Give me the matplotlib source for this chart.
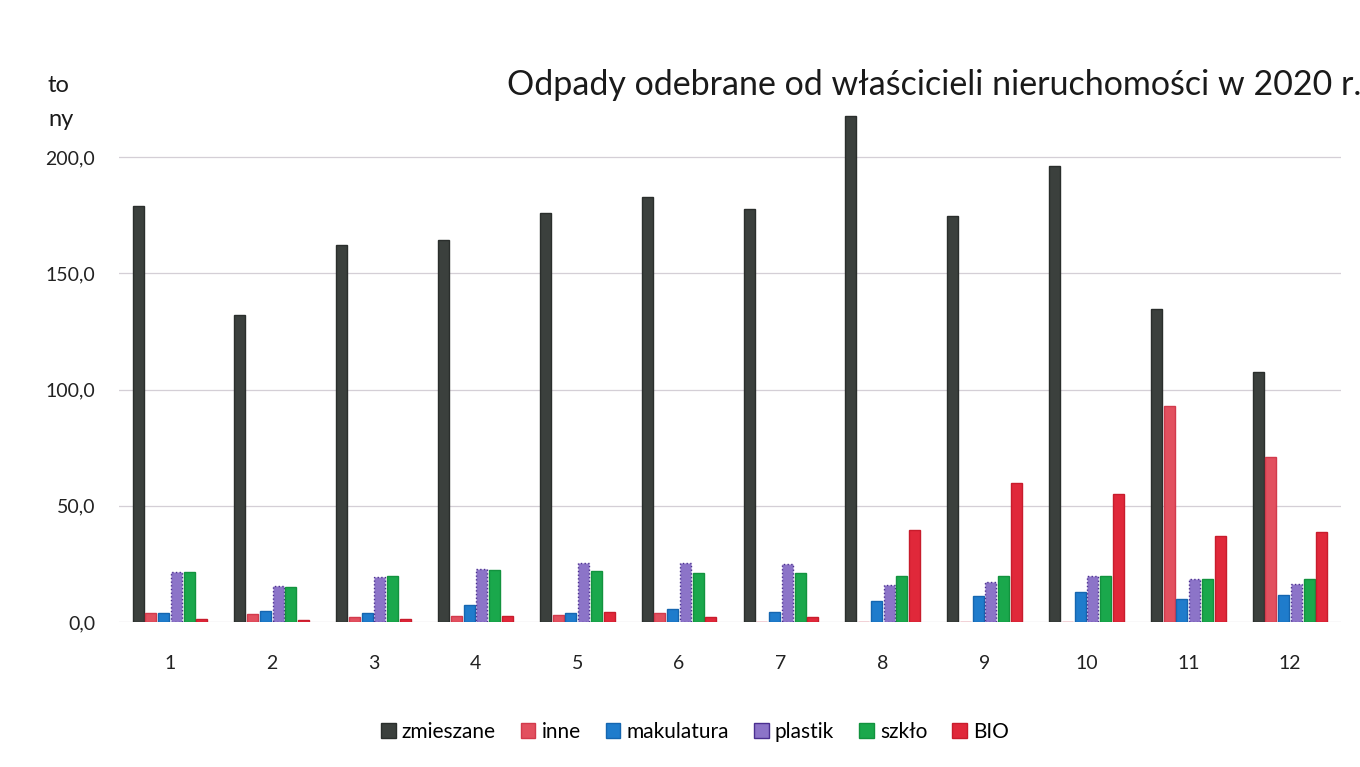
import matplotlib
matplotlib.use("Agg")
import matplotlib.pyplot as plt
import numpy as np

plt.rcParams['font.family'] = ['Lato', 'DejaVu Sans']

months = ['1', '2', '3', '4', '5', '6', '7', '8', '9', '10', '11', '12']
series_names = ['zmieszane', 'inne', 'makulatura', 'plastik', 'szkło', 'BIO']
zmieszane = [179.0, 132.0, 162.0, 164.5, 176.0, 183.0, 177.5, 217.5, 174.5, 196.0, 134.5, 107.5]
inne = [4.0, 3.4, 2.3, 2.7, 3.1, 3.7, 0.0, 0.0, 0.0, 0.0, 92.8, 71.0]
makulatura = [3.8, 4.7, 4.0, 7.4, 4.0, 5.5, 4.2, 9.2, 11.0, 13.0, 9.9, 11.5]
plastik = [21.5, 15.5, 19.3, 22.8, 25.5, 25.4, 25.0, 15.8, 17.4, 19.6, 18.4, 16.2]
szklo = [21.5, 15.0, 20.0, 22.2, 21.9, 21.0, 21.0, 19.7, 19.6, 20.0, 18.4, 18.4]
bio = [1.3, 1.0, 1.2, 2.7, 4.2, 2.0, 2.1, 39.6, 60.0, 55.0, 36.9, 38.7]
yticks = [0, 50, 100, 150, 200]
ytick_labels = ['0,0', '50,0', '100,0', '150,0', '200,0']

colors = ['#3b403d', '#e2505f', '#1f7ccc', '#8c74c8', '#1aa84c', '#e0283a']
edges = ['#2a2e2c', '#d23a4c', '#1566b0', '#4b2f90', '#12933e', '#c81c2c']
data = [zmieszane, inne, makulatura, plastik, szklo, bio]

fig = plt.figure(figsize=(13.6, 7.67), dpi=100)
ax = fig.add_axes([119/1360, (767-622)/767, (1341-119)/1360, (622-110.5)/767])

x = np.arange(1, len(months) + 1)
slot = 0.125
bw = 0.108
for i, (vals, c, e) in enumerate(zip(data, colors, edges)):
    off = (i - 2.5) * slot
    ls = ':' if series_names[i] == 'plastik' else '-'
    ax.bar(x + off, vals, width=bw, color=c, edgecolor=e, linewidth=1.0,
           linestyle=ls, label=series_names[i], zorder=3)

ax.set_xlim(0.5, 12.5)
ax.set_ylim(0, 220)
ax.set_yticks(yticks)
ax.set_yticklabels(ytick_labels, fontsize=14, color='#222222')
ax.set_xticks(x)
ax.set_xticklabels(months, fontsize=14, color='#222222')
ax.tick_params(axis='both', length=0)
ax.tick_params(axis='x', pad=24)
ax.tick_params(axis='y', pad=17)
for s in ax.spines.values():
    s.set_visible(False)
ax.yaxis.grid(True, color='#d4cfd6', linewidth=0.9, zorder=0)
ax.set_axisbelow(True)

fig.text(507/1360, 1 - 85/767, 'Odpady odebrane od właścicieli nieruchomości w 2020 r.',
         fontsize=24.5, ha='left', va='center', color='#1a1a1a')
fig.text(48/1360, 1 - 86/767, 'to', fontsize=17, ha='left', va='center', color='#1a1a1a')
fig.text(48/1360, 1 - 119/767, 'ny', fontsize=17, ha='left', va='center', color='#1a1a1a')

leg = fig.legend(loc='center', bbox_to_anchor=(695/1360, 1 - 732/767), ncol=6,
                 frameon=False, fontsize=15, handlelength=0.7, handleheight=0.7,
                 handletextpad=0.3, columnspacing=1.2)
for h in leg.legend_handles:
    h.set_linestyle('-')

fig.savefig('out.png', dpi=100)
